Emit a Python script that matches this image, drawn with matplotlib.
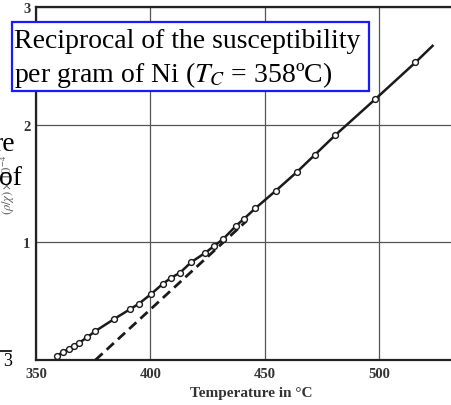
import matplotlib
matplotlib.use("Agg")
import matplotlib.pyplot as plt
from matplotlib.patches import Rectangle

plt.rcParams["font.family"] = ["Liberation Serif", "DejaVu Serif"]
plt.rcParams["mathtext.fontset"] = "stix"

# measured points, 1/chi per gram (x 10^-4) vs temperature
obs_T = [359, 362, 364.5, 366.5, 369, 372.5, 376, 384, 391, 395, 400.5, 405.5,
         409, 413, 418, 424, 428, 432, 437.5, 441, 446, 455, 464, 472, 481,
         498.5, 516]
obs_v = [0.035, 0.068, 0.096, 0.12, 0.147, 0.195, 0.246, 0.346, 0.43, 0.478,
         0.563, 0.648, 0.697, 0.742, 0.833, 0.91, 0.97, 1.03, 1.14, 1.2, 1.29,
         1.44, 1.595, 1.744, 1.912, 2.218, 2.529]

# solid curve continues past the last point
line_T = obs_T + [523.5]
line_v = obs_v + [2.67]

# dashed extrapolation of the straight part
dash_T = [376, 442]
dash_v = [0.0, 1.18]

x_ticks = [350, 400, 450, 500]
y_ticks = [1, 2, 3]

fig = plt.figure(figsize=(4.52, 4.06), dpi=100)
ax = fig.add_axes([36 / 452, 45 / 406, 416 / 452, 353 / 406])

ax.plot(line_T, line_v, color="#1a1a1a", lw=1.8, zorder=3)
ax.plot(dash_T, dash_v, color="#1a1a1a", lw=2.0, ls=(0, (3.5, 2)), zorder=3)
ax.plot(obs_T, obs_v, ls="none", marker="o", ms=4.2, mfc="white", mec="#1a1a1a",
        mew=1.0, zorder=4)

ax.set_xlim(350, 532)
ax.set_ylim(0, 3)
ax.set_xticks(x_ticks)
ax.set_yticks(y_ticks)
ax.set_xticklabels([str(t) for t in x_ticks], fontsize=10.5, color="#333333",
                   fontweight="bold")
ax.set_yticklabels([str(t) for t in y_ticks], fontsize=10.5, color="#333333",
                   fontweight="bold")
ax.tick_params(length=0, pad=5)
ax.tick_params(axis="y", pad=4)
ax.grid(True, color="#555555", lw=0.9)
ax.set_axisbelow(True)
for side in ["left", "bottom", "top"]:
    ax.spines[side].set_color("#222222")
    ax.spines[side].set_linewidth(1.6)
ax.spines["right"].set_visible(False)

ax.set_xlabel("Temperature in °C", fontsize=11, color="#333333",
              fontweight="bold")
ax.xaxis.set_label_coords((251 - 36) / 416, -0.075)
ax.set_ylabel(r"$(\rho/\chi)\times10^{-4}$", fontsize=9, color="#555555",
              va="center")
ax.yaxis.set_label_coords(-28 / 416, 0.5)

# left-edge fragments of another caption
fig.text(15 / 452, 1 - 151 / 406, "re", fontsize=20, ha="right", va="baseline")
fig.text(22 / 452, 1 - 185 / 406, "of", fontsize=20, ha="right", va="baseline")
fig.add_artist(plt.Line2D([0, 11 / 452], [1 - 352 / 406] * 2, color="black",
                          lw=1.2))
fig.text(12 / 452, 1 - 366 / 406, "3", fontsize=13, ha="right", va="baseline")

# caption box
fig.add_artist(Rectangle((12 / 452, 1 - 92 / 406), 357 / 452, 69 / 406,
                         transform=fig.transFigure, facecolor="white",
                         edgecolor="#1a1aff", lw=1.6, zorder=5))
fig.text(14 / 452, 1 - 48 / 406, "Reciprocal of the susceptibility",
         fontsize=20, va="baseline", zorder=6)
fig.text(14 / 452, 1 - 82 / 406, "per gram of Ni ($T_C$ = 358ºC)",
         fontsize=20, va="baseline", zorder=6)

fig.savefig("out.png", dpi=100)
